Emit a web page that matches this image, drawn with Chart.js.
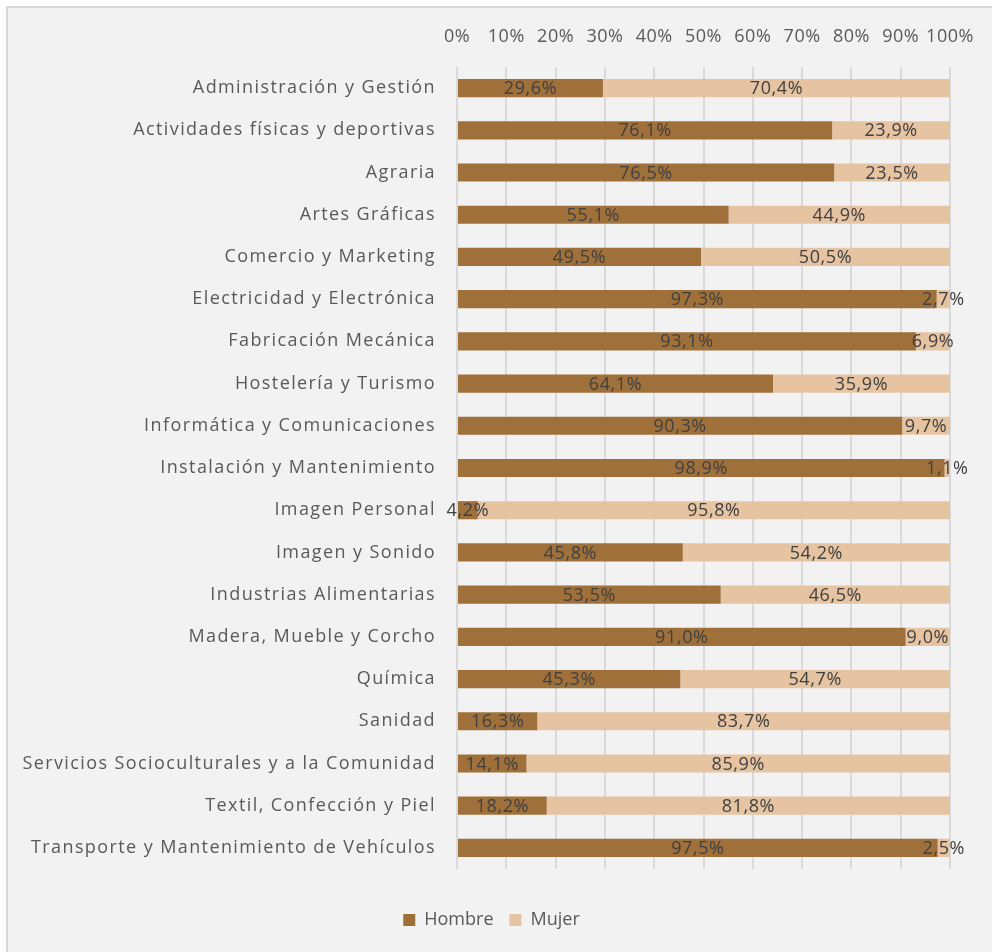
<!DOCTYPE html>
<html>
<head>
<meta charset="utf-8">
<script src="https://cdn.jsdelivr.net/npm/chart.js@4"></script>
<style>
    html, body { margin: 0; padding: 0; background: #ffffff; overflow: hidden; }
    #frame {
        position: absolute; left: 6px; top: 6px; width: 1000px; height: 960px;
        background: #f2f2f2; border: 2px solid #d9d9d9; box-sizing: border-box;
    }
    #chart { position: absolute; left: 0; top: 0; }
</style>
</head>
<body>
<div id="frame"></div>
<canvas id="chart" width="992" height="952"></canvas>
<script>
// Familias profesionales (categorías)
var categories = [
    'Administración y Gestión',
    'Actividades físicas y deportivas',
    'Agraria',
    'Artes Gráficas',
    'Comercio y Marketing',
    'Electricidad y Electrónica',
    'Fabricación Mecánica',
    'Hostelería y Turismo',
    'Informática y Comunicaciones',
    'Instalación y Mantenimiento',
    'Imagen Personal',
    'Imagen y Sonido',
    'Industrias Alimentarias',
    'Madera, Mueble y Corcho',
    'Química',
    'Sanidad',
    'Servicios Socioculturales y a la Comunidad',
    'Textil, Confección y Piel',
    'Transporte y Mantenimiento de Vehículos'
];

// Porcentajes por sexo
var hombre = [29.6, 76.1, 76.5, 55.1, 49.5, 97.3, 93.1, 64.1, 90.3, 98.9, 4.2, 45.8, 53.5, 91.0, 45.3, 16.3, 14.1, 18.2, 97.5];
var mujer  = [70.4, 23.9, 23.5, 44.9, 50.5, 2.7, 6.9, 35.9, 9.7, 1.1, 95.8, 54.2, 46.5, 9.0, 54.7, 83.7, 85.9, 81.8, 2.5];

var xTicks = [0, 10, 20, 30, 40, 50, 60, 70, 80, 90, 100];

var FONT = '"Open Sans", sans-serif';

function pct(v) {
    return v.toFixed(1).replace('.', ',') + '%';
}

// dibuja un eje con espaciado entre letras
function spaced(scale, sp) {
    if (scale._spaced) return;
    var draw = scale.draw;
    scale.draw = function (area) {
        var old = this.ctx.letterSpacing;
        this.ctx.letterSpacing = sp;
        draw.call(this, area);
        this.ctx.letterSpacing = old;
    };
    scale._spaced = true;
}

// etiquetas de datos centradas en cada segmento
var barLabels = {
    id: 'barLabels',
    afterDatasetsDraw: function (chart) {
        var ctx = chart.ctx;
        ctx.save();
        ctx.letterSpacing = '0.6px';
        ctx.font = '18px ' + FONT;
        ctx.fillStyle = '#404040';
        ctx.textAlign = 'center';
        ctx.textBaseline = 'middle';
        chart.data.datasets.forEach(function (ds, i) {
            chart.getDatasetMeta(i).data.forEach(function (bar, j) {
                var cx = (bar.x + bar.base) / 2;
                ctx.fillText(pct(ds.data[j]), cx, bar.y + 1);
            });
        });
        ctx.restore();
    }
};

new Chart(document.getElementById('chart'), {
    type: 'bar',
    data: {
        labels: categories,
        datasets: [
            { label: 'Hombre', data: hombre, backgroundColor: '#a0703a', borderWidth: 0 },
            { label: 'Mujer', data: mujer, backgroundColor: '#e6c4a2', borderWidth: 0 }
        ]
    },
    options: {
        indexAxis: 'y',
        responsive: false,
        animation: false,
        layout: { padding: { left: 33, right: 42, top: 0, bottom: 13 } },
        datasets: { bar: { barPercentage: 0.43, categoryPercentage: 1 } },
        plugins: {
            legend: {
                position: 'bottom',
                labels: {
                    boxWidth: 12, boxHeight: 12, padding: 16,
                    color: '#595959', font: { family: FONT, size: 18 }
                }
            },
            tooltip: { enabled: false }
        },
        scales: {
            x: {
                position: 'top',
                stacked: true,
                min: 0, max: 100,
                afterBuildTicks: function (scale) {
                    scale.ticks = xTicks.map(function (v) { return { value: v }; });
                },
                afterFit: function (scale) {
                    scale.height = 67;
                    spaced(scale, '0.5px');
                },
                grid: { color: '#d9d9d9', lineWidth: 2, drawTicks: false },
                border: { display: false },
                ticks: {
                    padding: 19,
                    maxRotation: 0,
                    autoSkip: false,
                    color: '#595959',
                    font: { family: FONT, size: 18 },
                    callback: function (v) { return v + '%'; }
                }
            },
            // espacio entre el área del gráfico y la leyenda
            gap: {
                axis: 'x',
                type: 'linear',
                position: 'bottom',
                afterFit: function (scale) { scale.height = 26; },
                grid: { display: false, drawTicks: false },
                border: { display: false },
                ticks: { display: false }
            },
            y: {
                stacked: true,
                afterFit: function (scale) {
                    scale.width = 424;
                    spaced(scale, '1.4px');
                    // las etiquetas largas salen del eje: sin recorte
                    scale._computeLabelArea = function () { return undefined; };
                },
                grid: { display: false, drawTicks: false },
                border: { display: false },
                ticks: {
                    padding: 21,
                    color: '#595959',
                    font: { family: FONT, size: 18 }
                }
            }
        }
    },
    plugins: [barLabels]
});
</script>
</body>
</html>
